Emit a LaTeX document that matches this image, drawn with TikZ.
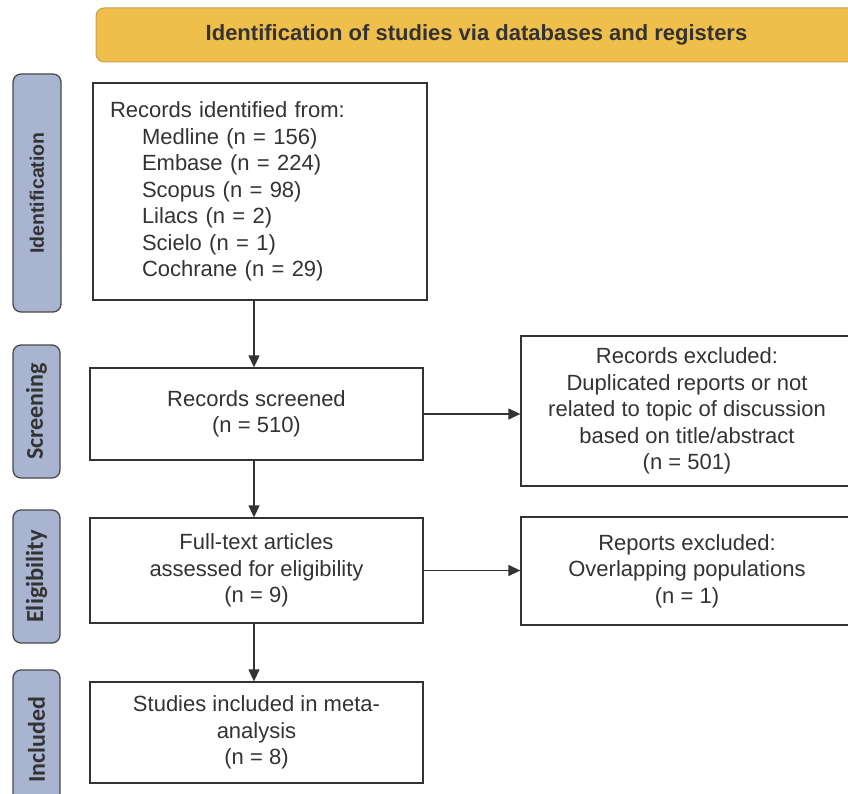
\documentclass[tikz,border=0pt]{standalone}
\usepackage{fontspec}
\setmainfont{Liberation Sans}
\newfontfamily\calib{Carlito}
\usetikzlibrary{arrows.meta}
\definecolor{hdrfill}{HTML}{F0BE4A}
\definecolor{hdrdraw}{HTML}{C9A24E}
\definecolor{sidefill}{HTML}{A9B4D0}
\definecolor{sidedraw}{HTML}{4A4A4A}
\definecolor{txt}{HTML}{333333}
\definecolor{ln}{HTML}{333333}
\begin{document}
\begin{tikzpicture}[x=1pt,y=-1pt,
  box/.style={draw=ln, line width=1.3pt, rectangle, inner sep=0pt, text=txt,
    font=\fontsize{22}{26.5}\selectfont, align=center},
  side/.style={draw=sidedraw, fill=sidefill, line width=1.3pt, rounded corners=8pt,
    inner sep=0pt, text=txt, rotate=90},
  arr/.style={draw=ln, line width=1.3pt, -{Triangle[length=12pt,width=11pt]}}]
\clip (0,0) rectangle (848,794);
\fill[white] (0,0) rectangle (848,794);
% header
\node[draw=hdrdraw, fill=hdrfill, line width=1pt, rounded corners=8pt,
  minimum width=761, minimum height=54, inner sep=0pt, text=txt,
  font=\bfseries\fontsize{22}{26}\selectfont] (hdr) at (476.5,35)
  {Identification of studies via databases and registers};
% side labels
\node[side, minimum width=238, minimum height=48] (sid) at (37,193)
  {\bfseries\fontsize{19.5}{22}\selectfont Identification};
\node[side, minimum width=133, minimum height=47] (sscr) at (36.5,411.5)
  {\calib\bfseries\fontsize{24}{26}\selectfont Screening};
\node[side, minimum width=133, minimum height=47] (selig) at (36.5,576.5)
  {\calib\bfseries\fontsize{24.5}{26}\selectfont Eligibility};
\node[side, minimum width=140, minimum height=47] (sinc) at (36.5,740)
  {\calib\bfseries\fontsize{24}{26}\selectfont Included};
% main boxes
\node[box, align=left, text width=300pt, inner xsep=17pt, minimum height=217] (ident) at (260,191.5)
  {Records identified from:\\
   \hspace*{32pt}Medline (n = 156)\\
   \hspace*{32pt}Embase (n = 224)\\
   \hspace*{32pt}Scopus (n = 98)\\
   \hspace*{32pt}Lilacs (n = 2)\\
   \hspace*{32pt}Scielo (n = 1)\\
   \hspace*{32pt}Cochrane (n = 29)};
\node[box, minimum width=333, minimum height=92] (screened) at (256.5,414)
  {Records screened\\(n = 510)};
\node[box, minimum width=332, minimum height=150] (excl1) at (687,411)
  {Records excluded:\\Duplicated reports or not\\related to topic of discussion\\based on title/abstract\\(n = 501)};
\node[box, minimum width=333, minimum height=105] (full) at (256.5,570.5)
  {Full-text articles\\assessed for eligibility\\(n = 9)};
\node[box, minimum width=332, minimum height=108] (excl2) at (687,571)
  {Reports excluded:\\Overlapping populations\\(n = 1)};
\node[box, minimum width=333, minimum height=101] (incl) at (256.5,732.5)
  {Studies included in meta-\\analysis\\(n = 8)};
% connectors
\coordinate (ax) at (254,0);
\draw[arr] (ident.south -| ax) -- (screened.north -| ax);
\draw[arr] (screened.south -| ax) -- (full.north -| ax);
\draw[arr] (full.south -| ax) -- (incl.north -| ax);
\draw[arr] (screened.east) -- (screened.east -| excl1.west);
\draw[arr] (full.east) -- (full.east -| excl2.west);
\end{tikzpicture}
\end{document}
